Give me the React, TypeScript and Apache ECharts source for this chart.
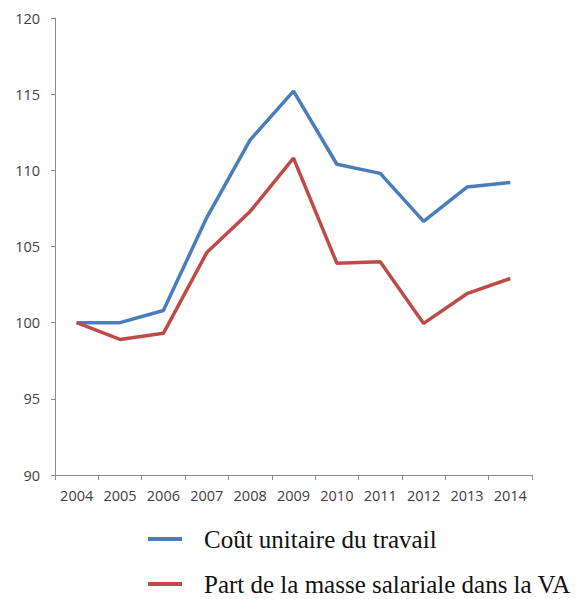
import React, { useEffect, useRef } from "react";
import * as echarts from "echarts";

const years = ["2004", "2005", "2006", "2007", "2008", "2009", "2010", "2011", "2012", "2013", "2014"];
const coutUnitaire = [100, 100, 100.8, 106.9, 112.0, 115.2, 110.4, 109.8, 106.65, 108.9, 109.2];
const partMasse = [100, 98.9, 99.3, 104.6, 107.3, 110.8, 103.9, 104.0, 99.95, 101.9, 102.9];
const seriesNames = ["Coût unitaire du travail", "Part de la masse salariale dans la VA"];
const seriesColors = ["#4A7EBB", "#BE4B48"];

export default function App() {
  const ref = useRef<HTMLDivElement>(null);
  useEffect(() => {
    document.body.style.margin = "0";
    const chart = echarts.init(ref.current!, null, { renderer: "svg" });
    const axisColor = "#8c8c8c";
    const labelStyle = { fontFamily: "Open Sans", fontSize: 14.5, color: "#404040" };
    const legendText = {
      fontFamily: "Liberation Serif",
      fontSize: 25,
      color: "#111111",
      lineHeight: 30,
      padding: [0, 0, 0, 17],
    };
    const rowCentres = [539, 584];
    chart.setOption({
      animation: false,
      backgroundColor: "#ffffff",
      grid: { left: 55, right: 50, top: 18, bottom: 124, containLabel: false },
      legend: seriesNames.map((name, i) => ({
        orient: "horizontal",
        left: 148,
        top: rowCentres[i] - 15,
        itemWidth: 34,
        itemHeight: 4,
        icon: "rect",
        padding: 0,
        data: [name],
        textStyle: legendText,
      })),
      xAxis: {
        type: "category",
        data: years,
        boundaryGap: true,
        axisLine: { show: true, lineStyle: { color: axisColor, width: 1 } },
        axisTick: { show: true, alignWithLabel: false, length: 5, lineStyle: { color: axisColor } },
        axisLabel: { ...labelStyle, margin: 13 },
        splitLine: { show: false },
      },
      yAxis: {
        type: "value",
        min: 90,
        max: 120,
        interval: 5,
        axisLine: { show: true, lineStyle: { color: axisColor, width: 1 } },
        axisTick: { show: true, length: 4, lineStyle: { color: axisColor } },
        axisLabel: { ...labelStyle, margin: 15 },
        splitLine: { show: false },
      },
      series: [
        {
          name: seriesNames[0],
          type: "line",
          data: coutUnitaire,
          symbol: "none",
          lineStyle: { color: seriesColors[0], width: 3.5 },
          itemStyle: { color: seriesColors[0] },
        },
        {
          name: seriesNames[1],
          type: "line",
          data: partMasse,
          symbol: "none",
          lineStyle: { color: seriesColors[1], width: 3.5 },
          itemStyle: { color: seriesColors[1] },
        },
      ],
    });
    return () => chart.dispose();
  }, []);
  return <div ref={ref} style={{ width: 582, height: 599 }} />;
}
